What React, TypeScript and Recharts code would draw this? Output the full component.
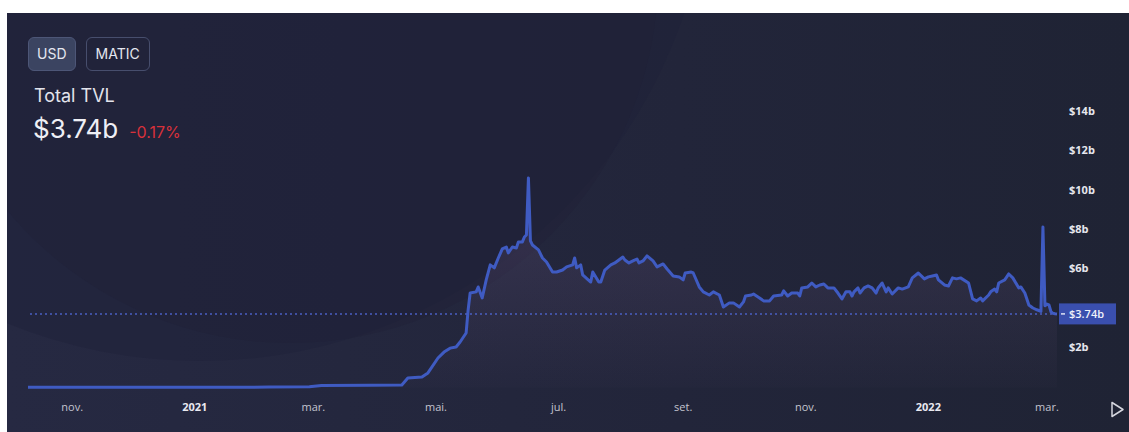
import { ComposedChart, Area, XAxis, YAxis, ReferenceLine } from "recharts";

// series starts on this day; `days` are offsets from it
const START = "2020-10-10";

const days = [
  0, 61, 120, 140, 146, 170, 186, 189, 196, 199, 204, 207, 210, 213, 215, 218, 219, 220, 223, 224,
  226, 228, 230, 232, 234, 236, 238, 239, 241, 243, 244, 246, 247, 248, 249, 250, 251, 254, 256, 258,
  261, 263, 266, 268, 271, 272, 273, 275, 276, 280, 281, 284, 285, 287, 290, 292, 294, 296, 297, 299,
  301, 303, 304, 306, 308, 311, 313, 316, 318, 321, 324, 326, 327, 330, 331, 334, 336, 339, 341, 344,
  346, 349, 351, 354, 356, 357, 360, 361, 364, 366, 369, 371, 375, 376, 378, 380, 383, 384, 385, 388,
  390, 392, 394, 396, 398, 401, 403, 405, 407, 409, 410, 411, 413, 414, 416, 418, 420, 422, 423, 425,
  427, 428, 430, 433, 435, 438, 440, 443, 446, 448, 450, 452, 453, 456, 458, 460, 462, 464, 468, 470,
  472, 474, 475, 478, 479, 481, 482, 483, 486, 488, 490, 493, 494, 496, 498, 500, 502, 504, 505, 506,
  507, 508, 509, 510, 511, 512,
];

// total value locked, $ billions
const tvl = [
  0.01, 0.01, 0.02, 0.04, 0.1, 0.12, 0.13, 0.48, 0.53, 0.74, 1.5, 1.8, 2.0, 2.06, 2.31, 2.77, 3.94, 4.8, 4.86, 5.11,
  4.55, 5.47, 6.23, 6.08, 6.58, 7.04, 7.14, 6.84, 7.14, 7.09, 7.4, 7.4, 7.65, 7.75, 10.65, 7.45, 7.24, 6.99, 6.58, 6.38,
  5.87, 5.87, 5.97, 6.13, 6.23, 6.58, 6.08, 6.23, 5.72, 5.36, 5.87, 5.36, 5.36, 5.97, 6.23, 6.33, 6.48, 6.63, 6.48, 6.33,
  6.43, 6.53, 6.33, 6.43, 6.69, 6.43, 6.13, 6.28, 6.02, 5.67, 5.62, 5.47, 5.82, 5.87, 5.82, 5.11, 4.86, 4.7, 4.86, 4.7,
  4.09, 4.3, 4.3, 4.09, 4.35, 4.65, 4.7, 4.75, 4.55, 4.4, 4.4, 4.65, 4.7, 4.91, 4.65, 4.8, 4.8, 4.65, 5.06, 5.11,
  5.31, 5.11, 5.21, 5.26, 5.06, 5.06, 4.8, 4.5, 4.86, 4.86, 4.65, 4.86, 5.06, 4.8, 5.06, 5.16, 5.06, 4.8, 5.06, 5.31,
  4.86, 5.06, 4.75, 5.06, 5.0, 5.11, 5.57, 5.82, 5.52, 5.62, 5.67, 5.72, 5.47, 5.21, 5.16, 5.57, 5.52, 5.57, 5.31, 4.5,
  4.4, 4.55, 4.4, 4.7, 4.86, 5.0, 4.86, 5.31, 5.47, 5.77, 5.57, 5.06, 5.11, 4.8, 4.19, 4.04, 3.95, 3.87, 8.16, 4.15,
  4.24, 4.2, 3.85, 3.77, 3.75, 3.74,
];

const tickDates = ["2020-11-01", "2021-01-01", "2021-03-01", "2021-05-01", "2021-07-01", "2021-09-01", "2021-11-01", "2022-01-01", "2022-03-01"];
const tickLabels = ["nov.", "2021", "mar.", "mai.", "jul.", "set.", "nov.", "2022", "mar."];
const yTicks = [2, 6, 8, 10, 12, 14];

const current = 3.74;
const change = -0.17;
const currencies = ["USD", "MATIC"];

const DAY = 86400000;
const toDay = (d: string) => Math.round((Date.parse(d) - Date.parse(START)) / DAY);
const tickDays = tickDates.map(toDay);

const data = days.map((d, i) => ({ day: d, tvl: tvl[i] }));

const AXIS_FONT = "'Open Sans', 'DejaVu Sans', sans-serif";

const XTick = ({ x, y, payload }: any) => {
  const i = tickDays.indexOf(payload.value);
  const label = tickLabels[i];
  const isYear = /^\d{4}$/.test(label);
  return (
    <text
      x={x}
      y={y + 10.5}
      textAnchor="middle"
      dominantBaseline="central"
      fontFamily={AXIS_FONT}
      fontSize={11}
      fontWeight={isYear ? 700 : 400}
      fill={isYear ? "#e9e9f0" : "#c3c4cf"}
    >
      {label}
    </text>
  );
};

const YTick = ({ x, y, payload }: any) => (
  <text
    x={x + 4}
    y={y - 1.5}
    textAnchor="start"
    dominantBaseline="central"
    fontFamily={AXIS_FONT}
    fontSize={11}
    fontWeight={700}
    fill="#e6e7ee"
  >
    ${payload.value}b
  </text>
);

const PriceTag = ({ viewBox }: any) => {
  if (!viewBox) return null;
  const x = viewBox.x + viewBox.width + 2;
  const y = viewBox.y;
  return (
    <g>
      <rect x={x} y={y - 10.5} width={57} height={21} fill="#3a4fae" />
      <line x1={x + 2} x2={x + 6} y1={y} y2={y} stroke="#dfe3f5" strokeWidth={1.5} />
      <text
        x={x + 10}
        y={y}
        dominantBaseline="central"
        fontFamily={AXIS_FONT}
        fontSize={11}
        fontWeight={600}
        fill="#f0f2fa"
      >
        ${current}b
      </text>
    </g>
  );
};

export default function App() {
  return (
    <div style={{ position: "absolute", left: 0, top: 0, width: 1129, height: 432, background: "#fff" }}>
      <div
        style={{
          position: "absolute",
          left: 7,
          top: 13,
          width: 1122,
          height: 419,
          background: "#23273a",
          overflow: "hidden",
          fontFamily: "Inter, 'Noto Sans', sans-serif",
        }}
      >
        {/* faint background arcs */}
        <svg width={1122} height={419} style={{ position: "absolute", left: 0, top: 0 }}>
          <defs>
            <linearGradient id="bgFade" x1="0" y1="0" x2="1" y2="0">
              <stop offset="0" stopColor="#262942" />
              <stop offset="0.6" stopColor="#22253a" />
              <stop offset="1" stopColor="#1f2334" />
            </linearGradient>
          </defs>
          <rect width={1122} height={419} fill="url(#bgFade)" />
          <circle cx={193} cy={-163} r={511} fill="#20223a" opacity={0.45} />
          <circle cx={283} cy={-38} r={368} fill="#202138" opacity={0.4} />
        </svg>

        <div style={{ position: "absolute", left: 21, top: 24, display: "flex", gap: 10 }}>
          {currencies.map((c, i) => (
            <div
              key={c}
              style={{
                height: 32,
                padding: i === 0 ? "0 8px" : "0 9px",
                lineHeight: "32px",
                borderRadius: 6,
                border: `1px solid ${i === 0 ? "#4d5677" : "#474e6d"}`,
                background: i === 0 ? "#3b4461" : "transparent",
                color: "#e4e7f0",
                fontSize: 14,
              }}
            >
              {c}
            </div>
          ))}
        </div>
        <div style={{ position: "absolute", left: 27, top: 72, color: "#e3e4ec", fontSize: 18 }}>Total TVL</div>
        <div style={{ position: "absolute", left: 26, top: 100, display: "flex", alignItems: "baseline", gap: 11 }}>
          <span style={{ color: "#eeeff5", fontSize: 26 }}>${current}b</span>
          <span style={{ color: "#d8313b", fontSize: 16 }}>{change.toFixed(2)}%</span>
        </div>

        <div style={{ position: "absolute", left: 0, top: 0 }}>
          <ComposedChart width={1122} height={419} data={data} margin={{ top: 99, right: 12, bottom: 13.5, left: 21 }}>
            <defs>
              <linearGradient id="tvlFill" x1="0" y1="0" x2="0" y2="1">
                <stop offset="0" stopColor="#8c6ea0" stopOpacity={0.36} />
                <stop offset="1" stopColor="#8c6ea0" stopOpacity={0.03} />
              </linearGradient>
            </defs>
            <XAxis
              dataKey="day"
              type="number"
              domain={[0, 512]}
              ticks={tickDays}
              tick={<XTick />}
              axisLine={false}
              tickLine={false}
              height={31}
              interval={0}
            />
            <YAxis
              orientation="right"
              domain={[0, 14]}
              ticks={yTicks}
              tick={<YTick />}
              axisLine={false}
              tickLine={false}
              width={60}
              interval={0}
            />
            <ReferenceLine
              y={current}
              stroke="#4a5fc2"
              strokeDasharray="2 3"
              strokeWidth={1.5}
              label={(p: any) => <PriceTag {...p} />}
            />
            <Area
              type="linear"
              dataKey="tvl"
              stroke="#3f5bc2"
              strokeWidth={3}
              strokeLinejoin="round"
              fill="url(#tvlFill)"
              dot={false}
              activeDot={false}
              isAnimationActive={false}
            />
          </ComposedChart>
        </div>

        <svg width={16} height={18} style={{ position: "absolute", left: 1103, top: 388 }}>
          <path d="M2 1.5 L2 15.5 L13 8.5 Z" fill="none" stroke="#d5d6de" strokeWidth={1.5} strokeLinejoin="round" />
        </svg>
      </div>
    </div>
  );
}
